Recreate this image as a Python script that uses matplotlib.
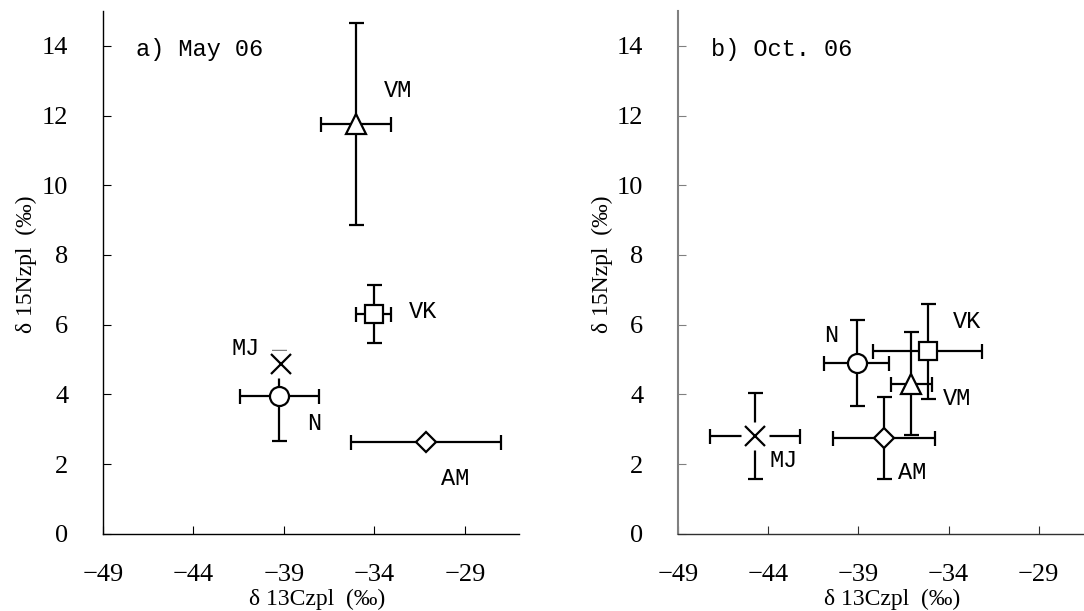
import matplotlib
matplotlib.use("Agg")
import matplotlib.pyplot as plt

plt.rcParams["font.family"] = ["Liberation Serif", "Noto Sans CJK JP"]
plt.rcParams["axes.unicode_minus"] = True

# Zooplankton groups
groups = ["MJ", "N", "VK", "VM", "AM"]

# a) May 06: mean d13C / d15N with their spreads
may_c13 = [-39.15, -39.25, -34.04, -35.00, -31.15]
may_n15 = [4.87, 3.95, 6.30, 11.75, 2.63]
may_c13_err = [0.0, 2.19, 0.96, 1.94, 4.12]
may_n15_err = [0.0, 1.30, 0.84, 2.90, 0.0]

# b) Oct. 06
oct_c13 = [-44.72, -39.10, -35.15, -36.07, -37.60]
oct_n15 = [2.80, 4.90, 5.23, 4.30, 2.74]
oct_c13_err = [2.48, 1.81, 3.02, 1.13, 2.83]
oct_n15_err = [1.23, 1.24, 1.37, 1.48, 1.18]

x_ticks = [-49, -44, -39, -34, -29]
y_ticks = [0, 2, 4, 6, 8, 10, 12, 14]

# marker style per group
marker_style = {
    "MJ": dict(marker="x", ms=14.5),
    "N": dict(marker="o", ms=13.7),
    "VK": dict(marker="s", ms=13.2),
    "VM": dict(marker="^", ms=14.0),
    "AM": dict(marker="D", ms=10.2),
}

# where each group name is written (left edge, vertical centre), data units
may_label_pos = {"MJ": (-41.92, 5.32), "N": (-37.72, 3.17), "VK": (-32.12, 6.37),
                 "VM": (-33.47, 12.73), "AM": (-30.31, 1.59)}
oct_label_pos = {"MJ": (-43.92, 2.11), "N": (-40.92, 5.70), "VK": (-33.76, 6.08),
                 "VM": (-34.34, 3.88), "AM": (-36.80, 1.75)}

label_font = dict(family=["Liberation Mono", "Noto Sans CJK JP"], fontsize=17)

fig = plt.figure(figsize=(10.84, 6.11), dpi=100)
ax_a = fig.add_axes([0.0950, 0.1265, 0.3840, 0.8555])
ax_b = fig.add_axes([0.6255, 0.1265, 0.3826, 0.8555])


def draw_panel(ax, cx, ny, cxe, nye, label_pos, title, yspine_color, xspine_color):
    for g, x, y, xe, ye in zip(groups, cx, ny, cxe, nye):
        ax.errorbar(x, y, xerr=xe if xe > 0 else None, yerr=ye if ye > 0 else None,
                    fmt="none", ecolor="black", elinewidth=1.6, capsize=5.4,
                    capthick=1.6, zorder=2)
    for g, x, y in zip(groups, cx, ny):
        st = marker_style[g]
        if st["marker"] == "x":
            ax.plot(x, y, marker="s", ms=20, mfc="white", mec="none",
                    linestyle="none", zorder=4)
            ax.plot(x, y, marker="x", ms=st["ms"], mec="black", mew=1.6,
                    linestyle="none", zorder=5)
        else:
            ax.plot(x, y, marker=st["marker"], ms=st["ms"], mfc="white",
                    mec="black", mew=1.6, linestyle="none", zorder=3)
        lx, ly = label_pos[g]
        ax.text(lx, ly, g, ha="left", va="center", **label_font)

    ax.text(-47.18, 13.9, title, ha="left", va="center", **label_font)

    ax.set_xlim(-49, -26)
    ax.set_ylim(0, 15)
    ax.set_xticks(x_ticks)
    ax.set_yticks(y_ticks)
    for side in ("top", "right"):
        ax.spines[side].set_visible(False)
    ax.spines["left"].set_color(yspine_color)
    ax.spines["bottom"].set_color(xspine_color)
    ax.spines["left"].set_linewidth(1.0 if yspine_color == "black" else 1.5)
    ax.spines["bottom"].set_linewidth(1.0)
    ax.tick_params(axis="x", direction="in", length=5.5, width=0.8,
                   color=xspine_color, labelsize=19, pad=22)
    ax.tick_params(axis="y", direction="in", length=6, width=0.8,
                   color=yspine_color, labelsize=19, pad=25)
    ax.set_xlabel("δ 13Czpl  (‰)", fontsize=17, family="Liberation Serif")
    ax.set_ylabel("δ 15Nzpl  (‰)", fontsize=17, family="Liberation Serif")
    ax.xaxis.set_label_coords(0.515, -0.1055)
    ax.yaxis.set_label_coords(-0.158, 0.515)


draw_panel(ax_a, may_c13, may_n15, may_c13_err, may_n15_err, may_label_pos,
           "a) May 06", "black", "black")

draw_panel(ax_b, oct_c13, oct_n15, oct_c13_err, oct_n15_err, oct_label_pos,
           "b) Oct. 06", "#808080", "#303030")

fig.savefig("out.png", dpi=100)
